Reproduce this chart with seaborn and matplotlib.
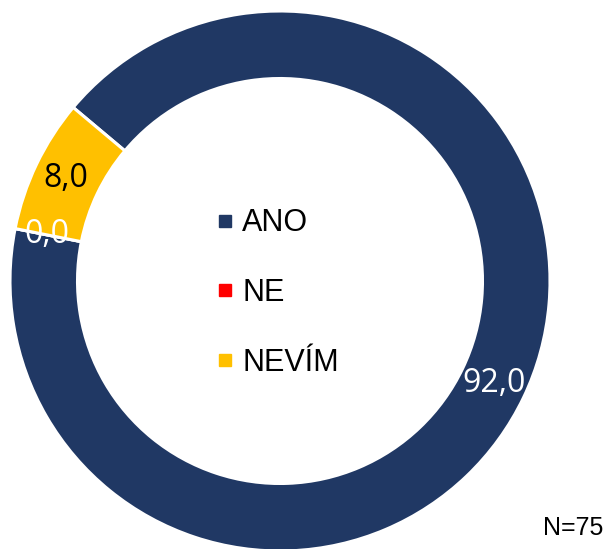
import matplotlib
matplotlib.use("Agg")
import matplotlib.pyplot as plt
import seaborn as sns
from matplotlib.lines import Line2D

categories = ["ANO", "NE", "NEVÍM"]
values = [92.0, 0.0, 8.0]
value_labels = ["92,0", "0,0", "8,0"]
colors = ["#203864", "#FF0000", "#FFC000"]
label_colors = ["white", "white", "black"]
note = "N=75"

sns.set_theme(style="white")
plt.rcParams['font.family'] = ['Liberation Sans', 'DejaVu Sans']
plt.rcParams['text.color'] = 'black'

fig = plt.figure(figsize=(6.06, 5.49), dpi=100)
ax = fig.add_axes([10/606, -2/549, 540/606, 540/549])

wedges, texts = ax.pie(values, labels=value_labels, colors=colors,
                       startangle=140, counterclock=False,
                       labeldistance=0.88, radius=1.0,
                       wedgeprops=dict(width=0.25, edgecolor="white", linewidth=2.2),
                       textprops=dict(fontsize=23, family=['Open Sans', 'DejaVu Sans']))
for t, c in zip(texts, label_colors):
    t.set_color(c)
    t.set_horizontalalignment("center")
    t.set_verticalalignment("center")

ax.set_xlim(-1, 1)
ax.set_ylim(-1, 1)
ax.set_aspect("equal")
ax.axis("off")

handles = [Line2D([0], [0], marker="s", linestyle="none", markersize=9,
                  markerfacecolor=c, markeredgecolor=c) for c in colors]
leg = fig.legend(handles, categories, loc="upper left",
                 bbox_to_anchor=(201/606, 1 - 193/549), frameon=False,
                 fontsize=22, handlelength=0.55, handletextpad=0.3,
                 labelspacing=1.3, borderpad=0)
for t in leg.get_texts():
    t.set_color("black")

fig.text(603/606, 1 - 528/549, note, ha="right", va="center", fontsize=18, color="black")

fig.savefig("out.png", dpi=100)
